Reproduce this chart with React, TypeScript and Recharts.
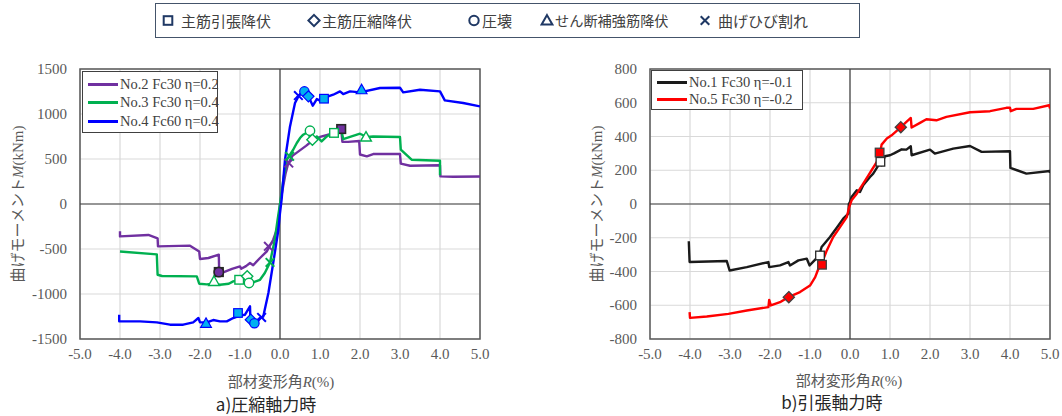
import React from 'react';
import {
  ComposedChart, Line, Scatter, XAxis, YAxis, CartesianGrid, ReferenceLine, ReferenceArea,
} from 'recharts';

// ---------- data ----------
type P = { x: number; y: number };
type M = { x: number; y: number; kind: string };
const toP = (a: number[][]): P[] => a.map(([x, y]) => ({ x, y }));

const xTicks = [-5, -4, -3, -2, -1, 0, 1, 2, 3, 4, 5];
const yTicksA = [-1500, -1000, -500, 0, 500, 1000, 1500];
const yTicksB = [-800, -600, -400, -200, 0, 200, 400, 600, 800];

const no2 = toP([
  [-4.0, -304], [-4.0, -360], [-3.29, -344], [-3.06, -381], [-3.05, -471], [-2.25, -463], [-2.02, -527],
  [-2.0, -611], [-1.79, -600], [-1.53, -563], [-1.52, -756], [-1.42, -760], [-1.2, -720], [-1.0, -693],
  [-0.97, -720], [-0.85, -690], [-0.75, -656], [-0.67, -680], [-0.5, -600], [-0.33, -527], [-0.17, -397],
  [-0.08, -286], [-0.03, -150], [0, 0], [0.08, 200], [0.14, 340], [0.2, 443], [0.31, 535], [0.48, 590],
  [0.65, 646], [0.8, 700], [1.0, 745], [1.25, 775], [1.46, 812], [1.53, 833], [1.56, 690], [1.7, 690],
  [1.98, 700], [2.0, 550], [2.17, 529], [2.33, 555], [3.0, 555], [3.02, 448], [3.25, 425], [4.0, 431],
  [4.01, 307], [4.33, 303], [5.0, 305],
]);
const no3 = toP([
  [-4.0, -527], [-3.08, -560], [-3.06, -786], [-2.95, -800], [-2.08, -804], [-2.02, -886], [-1.83, -893],
  [-1.66, -886], [-1.5, -897], [-1.28, -886], [-1.17, -860], [-1.0, -842], [-0.85, -830], [-0.75, -812],
  [-0.67, -870], [-0.5, -842], [-0.38, -767], [-0.25, -649], [-0.13, -397], [-0.06, -174], [0, 0],
  [0.1, 320], [0.17, 492], [0.33, 603], [0.42, 678], [0.5, 733], [0.58, 770], [0.7, 800], [0.79, 696],
  [0.92, 751], [1.04, 696], [1.17, 751], [1.33, 796], [1.54, 807], [1.58, 722], [2.0, 781], [2.17, 744],
  [2.33, 750], [3.0, 744], [3.02, 603], [3.29, 492], [4.0, 481], [4.0, 320],
]);
const no4 = toP([
  [-4.02, -1230], [-4.02, -1304], [-3.5, -1304], [-3.08, -1315], [-2.75, -1341], [-2.42, -1341],
  [-2.17, -1315], [-2.04, -1267], [-2.0, -1315], [-1.83, -1315], [-1.67, -1289], [-1.5, -1304],
  [-1.33, -1304], [-1.17, -1267], [-1.0, -1240], [-0.875, -1230], [-0.75, -1137], [-0.74, -1289],
  [-0.64, -1320], [-0.5, -1267], [-0.42, -1252], [-0.29, -989], [-0.17, -656], [-0.04, -286], [0, -100],
  [0.04, 48], [0.125, 492], [0.25, 862], [0.375, 1122], [0.46, 1196], [0.54, 1233], [0.6, 1245],
  [0.71, 1196], [0.82, 1092], [0.92, 1166], [1.04, 1141], [1.1, 1178], [1.33, 1214], [1.5, 1251],
  [1.58, 1222], [1.75, 1251], [2.0, 1240], [2.5, 1289], [3.0, 1292], [3.08, 1240], [3.5, 1270],
  [4.0, 1251], [4.12, 1151], [4.58, 1122], [5.0, 1085],
]);
const no1 = toP([
  [-4.03, -221], [-4.01, -344], [-3.08, -338], [-3.01, -394], [-2.58, -374], [-2.04, -344], [-2.02, -374],
  [-1.75, -364], [-1.54, -344], [-1.5, -364], [-1.29, -334], [-1.08, -324], [-1.01, -364], [-0.87, -330],
  [-0.77, -305], [-0.71, -255], [-0.5, -196], [-0.29, -127], [-0.17, -87], [-0.04, -57], [-0.03, 0],
  [0, 12], [0.04, 42], [0.17, 81], [0.25, 71], [0.33, 111], [0.5, 160], [0.58, 180], [0.71, 229],
  [0.75, 259], [0.79, 229], [0.87, 283], [1.0, 289], [1.1, 300], [1.29, 324], [1.41, 322], [1.52, 342],
  [1.54, 289], [2.0, 322], [2.12, 299], [2.58, 328], [3.0, 344], [3.29, 309], [4.0, 313], [4.01, 214],
  [4.41, 180], [5.0, 196], [5.0, 184],
]);
const no5 = toP([
  [-4.01, -641], [-4.0, -675], [-3.58, -667], [-3.04, -651], [-2.58, -631], [-2.04, -611], [-2.02, -568],
  [-1.98, -601], [-1.75, -582], [-1.54, -552], [-1.25, -522], [-1.0, -483], [-0.87, -433], [-0.79, -384],
  [-0.71, -354], [-0.58, -275], [-0.42, -196], [-0.25, -137], [-0.08, -77], [-0.02, -18], [0.04, 22],
  [0.17, 61], [0.33, 121], [0.46, 170], [0.54, 200], [0.67, 249], [0.75, 299], [0.79, 352], [0.92, 388],
  [1.04, 407], [1.26, 453], [1.41, 487], [1.52, 510], [1.54, 453], [1.75, 481], [1.91, 502], [2.16, 496],
  [2.41, 516], [3.0, 544], [3.5, 550], [3.91, 570], [4.0, 570], [4.02, 550], [4.16, 564], [4.58, 564],
  [4.98, 585], [5.0, 566],
]);

// event markers: kind = tension | compression | crush | shear | crack
const no2Events: M[] = [
  { x: 0.22, y: 455, kind: 'crack' }, { x: -0.29, y: -470, kind: 'crack' },
  { x: 1.53, y: 833, kind: 'tension' }, { x: -1.53, y: -756, kind: 'tension' },
  { x: -1.53, y: -756, kind: 'crush' },
];
const no3Events: M[] = [
  { x: 0.24, y: 530, kind: 'crack' }, { x: -0.25, y: -649, kind: 'crack' },
  { x: 0.75, y: 814, kind: 'crush' }, { x: 0.81, y: 714, kind: 'compression' },
  { x: 1.35, y: 790, kind: 'tension' }, { x: 2.15, y: 744, kind: 'shear' },
  { x: -1.65, y: -860, kind: 'shear' }, { x: -1.02, y: -842, kind: 'tension' },
  { x: -0.82, y: -804, kind: 'compression' }, { x: -0.775, y: -878, kind: 'crush' },
];
const no4Events: M[] = [
  { x: 0.46, y: 1205, kind: 'crack' }, { x: -0.46, y: -1260, kind: 'crack' },
  { x: 0.61, y: 1251, kind: 'crush' }, { x: 0.71, y: 1196, kind: 'compression' },
  { x: 1.1, y: 1170, kind: 'tension' }, { x: 2.04, y: 1270, kind: 'shear' },
  { x: -1.85, y: -1325, kind: 'shear' }, { x: -1.05, y: -1211, kind: 'tension' },
  { x: -0.73, y: -1285, kind: 'compression' }, { x: -0.64, y: -1325, kind: 'crush' },
];
const no1Events: M[] = [
  { x: -0.75, y: -305, kind: 'tension' }, { x: 0.76, y: 250, kind: 'tension' },
];
const no5Events: M[] = [
  { x: -0.7, y: -360, kind: 'tension' }, { x: 0.74, y: 305, kind: 'tension' },
  { x: -1.53, y: -552, kind: 'compression' }, { x: 1.27, y: 455, kind: 'compression' },
];

const legendItems = ['主筋引張降伏', '主筋圧縮降伏', '圧壊', 'せん断補強筋降伏', '曲げひび割れ'];

// ---------- styles ----------
const SERIF = '"Liberation Serif", "DejaVu Serif", serif';
const CJK = '"Noto Sans CJK JP", "Noto Sans", sans-serif';
const C = { purple: '#7030A0', green: '#00B050', blue: '#0000FF', black: '#1A1A1A', red: '#FF0000' };

const Symbol = ({ kind, cx, cy, fill, stroke, line, sw = 1.2 }: any) => {
  const r = 4.3;
  if (kind === 'tension')
    return <rect x={cx - r} y={cy - r} width={2 * r} height={2 * r} fill={fill} stroke={stroke} strokeWidth={sw} />;
  if (kind === 'compression') {
    const d = r * 1.3;
    return <polygon points={`${cx},${cy - d} ${cx + d},${cy} ${cx},${cy + d} ${cx - d},${cy}`} fill={fill} stroke={stroke} strokeWidth={sw} />;
  }
  if (kind === 'crush') return <circle cx={cx} cy={cy} r={r + 0.4} fill={fill} stroke={stroke} strokeWidth={sw} />;
  if (kind === 'shear') {
    const d = r * 1.25;
    return <polygon points={`${cx},${cy - d} ${cx + d},${cy + d * 0.75} ${cx - d},${cy + d * 0.75}`} fill={fill} stroke={stroke} strokeWidth={sw} />;
  }
  const d = r;
  return (
    <g stroke={line} strokeWidth={2}>
      <line x1={cx - d} y1={cy - d} x2={cx + d} y2={cy + d} />
      <line x1={cx - d} y1={cy + d} x2={cx + d} y2={cy - d} />
    </g>
  );
};

const makeShape = (fill: string, stroke: string, line: string, sw?: number) => (props: any) => {
  const { cx, cy, payload } = props;
  if (cx == null || cy == null) return <g />;
  return <Symbol kind={payload.kind} cx={cx} cy={cy} fill={fill} stroke={stroke} line={line} sw={sw} />;
};

const tickText = { fontFamily: SERIF, fontSize: 15, fill: '#595959' };
const XTick = (p: any) => (
  <text x={p.x} y={p.y + 7} textAnchor="middle" style={tickText}>
    {Number(p.payload.value).toFixed(1)}
  </text>
);
const YTick = (p: any) => (
  <text x={p.x} y={p.y + 5} textAnchor="end" style={tickText}>
    {p.payload.value}
  </text>
);

const Panel = ({ left, yDomain, yTicks, lines, events }: any) => (
  <div style={{ position: 'absolute', left, top: 0 }}>
    <ComposedChart width={530} height={416} margin={{ top: 69, right: 50, bottom: 47, left: 0 }}>
      <CartesianGrid stroke="#D9D9D9" strokeWidth={1.2} />
      <XAxis
        type="number" dataKey="x" domain={[-5, 5]} ticks={xTicks} interval={0}
        axisLine={false} tickLine={false} tickSize={0} tickMargin={13} height={30} tick={<XTick />}
        allowDataOverflow
      />
      <YAxis
        type="number" dataKey="y" domain={yDomain} ticks={yTicks} interval={0}
        axisLine={false} tickLine={false} tickSize={0} tickMargin={13} width={80} tick={<YTick />}
        allowDataOverflow
      />
      <ReferenceLine x={0} stroke="#404040" strokeWidth={1.2} />
      <ReferenceLine y={0} stroke="#404040" strokeWidth={1.2} />
      {lines.map((l: any, i: number) => (
        <Line key={i} data={l.data} dataKey="y" type="linear" stroke={l.color} strokeWidth={2.4}
          dot={false} activeDot={false} isAnimationActive={false} strokeLinejoin="round" />
      ))}
      {events.map((e: any, i: number) => (
        <Scatter key={'s' + i} data={e.data} dataKey="y" shape={e.shape} isAnimationActive={false} />
      ))}
      <ReferenceArea x1={-5} x2={5} y1={yDomain[0]} y2={yDomain[1]} fill="none" fillOpacity={0}
        stroke="#595959" strokeWidth={1.5} ifOverflow="visible" />
    </ComposedChart>
  </div>
);

const YLabel = ({ cx, cy }: any) => (
  <div style={{
    position: 'absolute', left: cx, top: cy, transform: 'translate(-50%, -50%) rotate(-90deg)',
    whiteSpace: 'nowrap', fontSize: 15, color: '#595959', fontFamily: CJK, lineHeight: '16px', height: 16,
  }}>
    曲げモーメント<span style={{ fontFamily: SERIF, fontStyle: 'italic' }}>M</span>
    <span style={{ fontFamily: SERIF }}>(kNm)</span>
  </div>
);

const XLabel = ({ cx, cy }: any) => (
  <div style={{
    position: 'absolute', left: cx, top: cy, transform: 'translate(-50%, -50%)',
    whiteSpace: 'nowrap', fontSize: 15, color: '#595959', fontFamily: CJK, lineHeight: '15px', height: 15,
  }}>
    部材変形角<span style={{ fontFamily: SERIF, fontStyle: 'italic' }}>R</span>
    <span style={{ fontFamily: SERIF }}>(%)</span>
  </div>
);

const Caption = ({ cx, cy, text }: any) => (
  <div style={{
    position: 'absolute', left: cx, top: cy, transform: 'translate(-50%, -50%)',
    whiteSpace: 'nowrap', fontSize: 17, color: '#262626', fontFamily: CJK, lineHeight: '17px', height: 17,
  }}>{text}</div>
);

const InnerLegend = ({ left, top, width, rows, rowH }: any) => (
  <div style={{
    position: 'absolute', left, top, width, height: rows.length * rowH + 6, border: '1.3px solid #404040',
    background: '#fff', boxSizing: 'border-box',
  }}>
    {rows.map((r: any, i: number) => (
      <div key={i} style={{ position: 'absolute', left: 5, top: 3 + i * rowH, height: rowH, display: 'flex', alignItems: 'center' }}>
        <div style={{ width: 30, height: 3, background: r.color, marginRight: 2 }} />
        <span style={{ fontFamily: SERIF, fontSize: 14.5, color: '#404040', whiteSpace: 'nowrap' }}>{r.label}</span>
      </div>
    ))}
  </div>
);

const legendX = [166, 312, 472, 545, 703];
const LegendIcon = ({ kind }: any) => (
  <svg width={14} height={16} style={{ display: 'block' }}>
    <Symbol kind={kind} cx={7} cy={8.5} fill="#fff" stroke="#1F3864" line="#1F3864" sw={2} />
  </svg>
);
const kinds = ['tension', 'compression', 'crush', 'shear', 'crack'];

export default function App() {
  return (
    <div style={{ position: 'absolute', left: 0, top: 0, width: 1062, height: 416, background: '#fff', overflow: 'hidden' }}>
      <Panel
        left={0} yDomain={[-1500, 1500]} yTicks={yTicksA}
        lines={[{ data: no2, color: C.purple }, { data: no3, color: C.green }, { data: no4, color: C.blue }]}
        events={[
          { data: no2Events, shape: makeShape(C.purple, '#262626', C.purple, 1.6) },
          { data: no3Events, shape: makeShape('#fff', C.green, C.green, 1.4) },
          { data: no4Events, shape: makeShape('#00B0F0', C.blue, C.blue, 1.2) },
        ]}
      />
      <Panel
        left={570} yDomain={[-800, 800]} yTicks={yTicksB}
        lines={[{ data: no1, color: C.black }, { data: no5, color: C.red }]}
        events={[
          { data: no1Events, shape: makeShape('#fff', '#262626', C.black, 1.3) },
          { data: no5Events, shape: makeShape(C.red, '#404040', C.red, 1.3) },
        ]}
      />
      <InnerLegend left={82} top={71} width={136} rowH={18.5}
        rows={[
          { color: C.purple, label: 'No.2 Fc30 η=0.2' },
          { color: C.green, label: 'No.3 Fc30 η=0.4' },
          { color: C.blue, label: 'No.4 Fc60 η=0.4' },
        ]} />
      <InnerLegend left={651} top={70} width={152} rowH={17}
        rows={[
          { color: C.black, label: 'No.1 Fc30 η=-0.1' },
          { color: C.red, label: 'No.5 Fc30 η=-0.2' },
        ]} />
      <YLabel cx={17} cy={204} />
      <YLabel cx={596} cy={204} />
      <XLabel cx={281} cy={380} />
      <XLabel cx={849} cy={379} />
      <Caption cx={266} cy={403} text="a)圧縮軸力時" />
      <Caption cx={832} cy={401} text="b)引張軸力時" />
      <div style={{
        position: 'absolute', left: 155, top: 3, width: 705, height: 35, border: '1.5px solid #44546A',
        boxSizing: 'border-box', background: '#fff',
      }}>
        {legendItems.map((t, i) => (
          <div key={i} style={{ position: 'absolute', left: legendX[i] - 155 - 6, top: 0, height: 32, display: 'flex', alignItems: 'center' }}>
            <LegendIcon kind={kinds[i]} />
            <span style={{ fontFamily: CJK, fontSize: i === 3 ? 14.2 : 15, color: '#404040', marginLeft: i === 0 || i === 4 ? 6 : 1, whiteSpace: 'nowrap' }}>{t}</span>
          </div>
        ))}
      </div>
    </div>
  );
}
